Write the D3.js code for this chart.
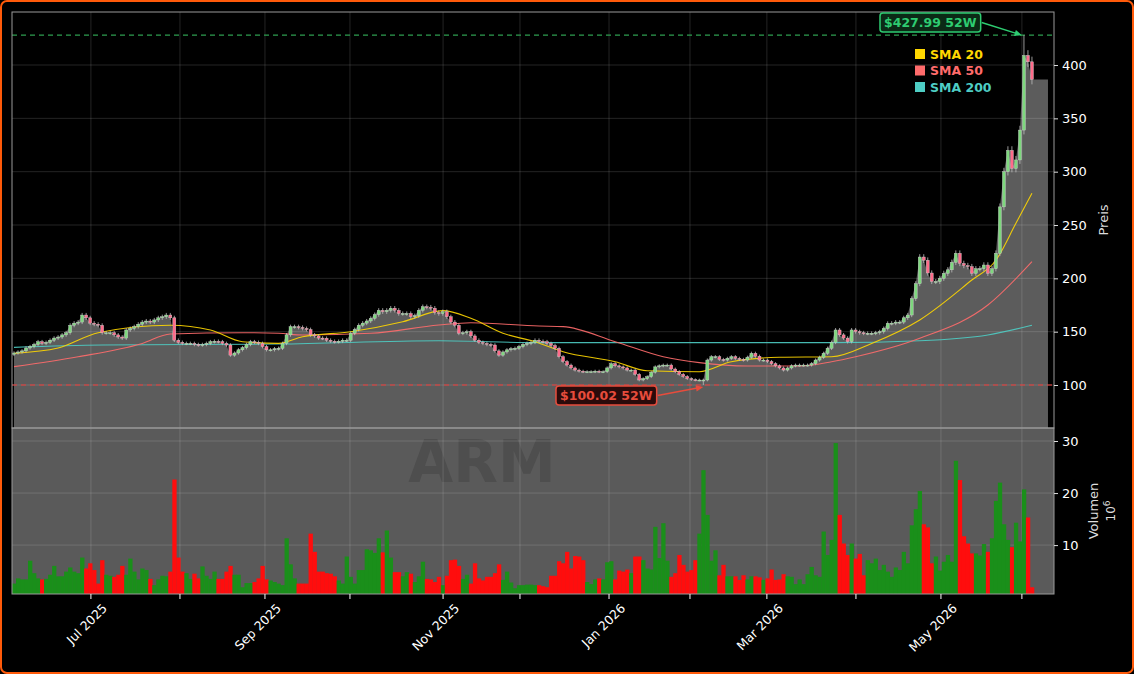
<!DOCTYPE html>
<html>
<head>
<meta charset="utf-8">
<script src="https://cdn.jsdelivr.net/npm/d3@7"></script>
<style>
  html, body { margin: 0; padding: 0; background: #000; }
  svg { display: block; font-family: "DejaVu Sans", sans-serif; }
</style>
</head>
<body>
<div id="chart"></div>
<script>
// daily closes (USD)
const closes = [
  130,131,132,134.7,136,138,140.6,139,140,142,
  144,145,147,149,156,158,159,165.6,163,158,
  157,156,149,149,149,147,145,144,151.6,153,
  154.7,157,159,160,159,161,163,164,165.6,163,
  142,140,139,139,139,138,137.5,138,139,140.6,
  141,140.6,139,137.5,128,130,133,135,138,140.6,
  140,139,136,133,133,134,134.4,139,147,154.7,
  154.7,154,153,152,147,146,144,143.8,142,141,
  140.6,141,142,142,148.5,152,156,158,160,162.5,
  166,170,168.7,170,172,170,167,167,167,164,
  165,170,173.4,173,172,168,167,168.7,164,159,
  156,148.5,149,150,146,142,140,139,138,137.5,
  132,128,131,133,134,134.4,136,138,139,140,
  142,141,140.6,139,137,134.4,126.5,122,118.7,116,
  114,113,112.5,112.5,112.5,113,112.5,112.5,116,120,
  118,117,116,114,114,110,104.7,106,107.8,112,
  117,118,118.7,118.7,115,112.5,110,108,106,105,
  104.7,104.7,104.7,123.4,126.5,126.5,124,123.4,125,126.5,
  125,124,123.4,126,129.7,127,123.4,123.4,122,120,
  118,116,114,116,118,118.7,118.7,118.7,118.7,120,
  123.4,126,129.7,134.4,140,151.6,147,144,140.6,151.6,
  150,149,148.5,148.5,148.5,149,150,153,157.8,158,
  159,159,163,165.6,181,195,220,217,205,197,
  197,200,204.7,208,215,223.5,214,212,211,204.7,
  209,209,212.5,204.7,209,223.5,267,300,320,303,
  311,339,409,403,386.5
];

// daily volume (millions)
const volumes = [
  2.6,3.6,3.4,3.4,7.0,4.6,3.6,3.4,3.5,4.3,
  6.0,4.0,4.0,4.9,5.7,4.9,4.6,7.6,5.5,6.5,
  5.2,2.6,7.1,4.3,4.1,3.9,4.3,6.0,4.3,7.4,
  4.9,3.4,5.5,5.2,3.5,2.3,3.4,4.1,4.0,4.9,
  22.6,7.6,4.9,4.6,3.5,4.5,3.6,5.9,4.1,3.5,
  4.9,3.5,3.5,4.9,6.0,4.3,4.3,1.9,2.7,2.7,
  2.9,3.6,6.0,3.4,3.2,2.9,2.6,2.3,11.3,6.3,
  3.6,2.6,2.6,2.6,12.2,8.7,4.9,4.9,4.6,4.5,
  4.0,3.2,2.6,7.8,3.9,2.6,5.2,5.2,9.2,9.0,
  8.5,11.3,8.6,12.8,7.6,4.8,4.8,4.0,4.8,4.5,
  2.9,4.0,6.8,3.5,3.4,2.9,3.9,2.3,4.1,7.1,
  7.2,6.0,3.5,4.3,2.6,6.5,3.6,3.2,3.9,3.9,
  4.6,6.3,3.3,4.9,2.8,1.7,2.3,2.3,2.4,2.4,
  2.3,2.3,2.1,1.9,4.1,4.1,6.9,6.5,8.7,5.5,
  7.9,7.8,7.1,2.9,2.5,3.4,3.6,3.4,6.7,6.9,
  3.4,5.1,4.9,5.3,4.6,7.8,7.8,7.1,5.5,5.3,
  13.5,7.5,14.2,7.0,3.9,4.6,8.1,6.2,4.9,5.2,
  7.1,12.2,24.4,15.8,7.0,9.0,4.2,6.2,4.0,4.0,
  4.0,3.3,4.2,3.4,4.0,4.0,3.8,3.3,3.6,5.3,
  3.3,3.4,4.4,4.0,3.9,2.5,3.4,2.5,4.4,5.8,
  4.2,3.9,12.6,8.1,11.0,29.6,15.8,10.3,8.1,10.3,
  7.4,8.3,4.2,7.1,6.5,7.4,5.2,6.2,4.9,3.9,
  5.7,5.2,8.7,6.5,13.8,16.9,20.4,14.0,13.4,6.5,
  7.8,5.1,6.8,8.1,6.8,26.2,22.5,11.7,10.3,8.4,
  8.4,8.0,10.2,8.7,11.3,18.5,22.0,14.0,11.0,9.6,
  14.3,10.7,20.7,15.3,1.9
];

// moving averages: [bar index, value]
const sma20 = [[0,129.7],[11,134.7],[21,149],[39,156],[49,151.6],[57,140.6],[66,139],[72,145.3],[84,150],[97,159.3],[107,169.7],[114,162.5],[122,148.5],[130,140.6],[137,131.2],[150,121.8],[158,113.4],[171,112.5],[179,121.8],[191,126],[204,126.5],[214,139],[226,161],[239,198.4],[245,217],[250,251.6],[254,279.7]];
const sma50 = [[0,117.2],[16,126.5],[32,139],[39,147.8],[57,149],[66,148.5],[72,146.9],[89,148.5],[106,156.2],[114,158.4],[131,155.3],[137,154.7],[150,140.6],[162,126.5],[171,121],[183,117.8],[196,117.8],[204,121.8],[210,126.5],[226,143.8],[243,175],[254,215.6]];
const sma200 = [[0,135.3],[22,137.5],[66,138.4],[106,141.5],[131,139.7],[154,139.7],[204,139.7],[226,141.5],[243,146.9],[254,156]];

const high52 = { idx: 252, value: 427.99 };
const low52 = { idx: 172, value: 100.02 };

const priceTicks = [100, 150, 200, 250, 300, 350, 400];
const volumeTicks = [10, 20, 30];
const monthNames = ["Jan","Feb","Mar","Apr","May","Jun","Jul","Aug","Sep","Oct","Nov","Dec"];
const holidays = ["2025-06-19","2025-07-04","2025-09-01","2025-11-27","2025-12-25","2026-01-01","2026-01-19","2026-02-16","2026-04-03","2026-05-25"];

const width = 1134, height = 674;
const slots = 260;
const left = 12, right = 1054;
const pTop = 12, pBottom = 428, vTop = 428, vBottom = 594;

// trading calendar
const dates = [];
for (let d = new Date(Date.UTC(2025, 5, 3)); dates.length < slots; d.setUTCDate(d.getUTCDate() + 1)) {
  const wd = d.getUTCDay();
  const iso = d.toISOString().slice(0, 10);
  if (wd === 0 || wd === 6 || holidays.includes(iso)) continue;
  dates.push(new Date(d));
}

const bars = closes.map((c, i) => {
  const o = i === 0 ? c * 0.99 : closes[i - 1];
  let hi = Math.max(o, c) * 1.012, lo = Math.min(o, c) * 0.988;
  if (i === high52.idx) hi = high52.value;
  if (i === low52.idx) lo = low52.value;
  return { i, o, c, hi, lo, v: volumes[i] };
});

const svg = d3.select("#chart").append("svg")
  .attr("width", width).attr("height", height);

svg.append("rect").attr("x", 1).attr("y", 1).attr("width", width - 2).attr("height", height - 2)
  .attr("rx", 6).attr("fill", "#000").attr("stroke", "#ff5a0a").attr("stroke-width", 2);

const x = d3.scaleBand().domain(d3.range(slots)).range([left, right]).paddingInner(0);
const xc = i => x(i) + x.bandwidth() / 2;
const y = d3.scaleLinear().domain([59.7, 449.7]).range([pBottom, pTop]);
const yv = d3.scaleLinear().domain([0.6, 32.5]).range([vBottom, vTop]);

// month boundaries (tick sits a little after the first session of the month)
const monthStarts = [];
dates.forEach((d, i) => {
  if (i > 0 && d.getUTCMonth() !== dates[i - 1].getUTCMonth()) monthStarts.push(i);
});
const tickX = i => xc(i) + x.step() * (i / 250) * 2.5;

// volume panel background
svg.append("rect").attr("x", left).attr("y", vTop).attr("width", right - left).attr("height", vBottom - vTop)
  .attr("fill", "#5a5a5a");

// price area fill
const lastSlot = slots - 2;
const areaData = bars.map(b => [xc(b.i), y(b.c)]);
areaData.push([xc(lastSlot), y(closes[closes.length - 1])]);
svg.append("path")
  .datum(areaData)
  .attr("fill", "#5c5c5c")
  .attr("d", d3.area().x(d => d[0]).y0(pBottom).y1(d => d[1]));

// watermark
svg.append("text").attr("x", 482).attr("y", 482).attr("text-anchor", "middle")
  .attr("font-size", 58).attr("font-weight", "bold").attr("fill", "#4e4e4e").text("ARM");

// grid
const grid = svg.append("g").attr("stroke", "#ffffff").attr("stroke-opacity", 0.18).attr("stroke-width", 0.8);
monthStarts.forEach(i => {
  grid.append("line").attr("x1", tickX(i)).attr("x2", tickX(i)).attr("y1", pTop).attr("y2", vBottom);
});
priceTicks.forEach(t => {
  grid.append("line").attr("x1", left).attr("x2", right).attr("y1", y(t)).attr("y2", y(t));
});
volumeTicks.forEach(t => {
  grid.append("line").attr("x1", left).attr("x2", right).attr("y1", yv(t)).attr("y2", yv(t));
});

// volume bars
svg.append("g").selectAll("rect").data(bars).join("rect")
  .attr("x", d => x(d.i)).attr("width", x.bandwidth() + 0.3)
  .attr("y", d => yv(d.v)).attr("height", d => vBottom - yv(d.v))
  .attr("fill", d => d.c >= d.o ? "#1a8f1a" : "#ff0d0d");

// 52W lines
svg.append("line").attr("x1", left).attr("x2", right).attr("y1", y(high52.value)).attr("y2", y(high52.value))
  .attr("stroke", "#2e9e50").attr("stroke-width", 1.3).attr("stroke-dasharray", "5,4");
svg.append("line").attr("x1", left).attr("x2", right).attr("y1", y(low52.value)).attr("y2", y(low52.value))
  .attr("stroke", "#d9413f").attr("stroke-width", 1.3).attr("stroke-dasharray", "5,4").attr("opacity", 0.8);

// SMA lines
const smaLine = d3.line().x(d => xc(d[0])).y(d => y(d[1])).curve(d3.curveMonotoneX);
[[sma200, "#4ecdc4"], [sma50, "#ff6b6b"], [sma20, "#ffd700"]].forEach(([data, col]) => {
  svg.append("path").datum(data).attr("fill", "none").attr("stroke", col)
    .attr("stroke-width", 1.1).attr("opacity", 0.9).attr("d", smaLine);
});

// candles
const candles = svg.append("g");
candles.selectAll("line").data(bars).join("line")
  .attr("x1", d => xc(d.i)).attr("x2", d => xc(d.i))
  .attr("y1", d => y(d.hi)).attr("y2", d => y(d.lo))
  .attr("stroke", "#bdbdbd").attr("stroke-width", 0.8);
candles.selectAll("rect").data(bars).join("rect")
  .attr("x", d => xc(d.i) - 1.5).attr("width", 3)
  .attr("y", d => y(Math.max(d.o, d.c)))
  .attr("height", d => Math.max(1, Math.abs(y(d.o) - y(d.c))))
  .attr("fill", d => d.c >= d.o ? "#7ed87e" : "#ff6b8a")
  .attr("stroke", "#d0d0d0").attr("stroke-width", 0.4);

// panel frames
svg.append("rect").attr("x", left).attr("y", pTop).attr("width", right - left).attr("height", pBottom - pTop)
  .attr("fill", "none").attr("stroke", "#9a9a9a").attr("stroke-width", 1);
svg.append("rect").attr("x", left).attr("y", vTop).attr("width", right - left).attr("height", vBottom - vTop)
  .attr("fill", "none").attr("stroke", "#9a9a9a").attr("stroke-width", 1);

// right axes
const pAxis = svg.append("g").attr("transform", `translate(${right},0)`)
  .call(d3.axisRight(y).tickValues(priceTicks).tickSize(4).tickPadding(4));
const vAxis = svg.append("g").attr("transform", `translate(${right},0)`)
  .call(d3.axisRight(yv).tickValues(volumeTicks).tickSize(4).tickPadding(4));
[pAxis, vAxis].forEach(g => {
  g.select(".domain").remove();
  g.selectAll(".tick line").attr("stroke", "#ddd");
  g.selectAll(".tick text").attr("fill", "#fff").attr("font-size", 13).attr("font-family", "DejaVu Sans");
});

// x axis
const xAxis = svg.append("g").attr("transform", `translate(0,${vBottom})`);
monthStarts.forEach(i => {
  const tx = tickX(i);
  xAxis.append("line").attr("x1", tx).attr("x2", tx).attr("y1", 0).attr("y2", 5).attr("stroke", "#fff");
  const m = dates[i].getUTCMonth();
  if (m % 2 === 0) {
    xAxis.append("text")
      .attr("transform", `translate(${tx + 17},${15}) rotate(-45)`)
      .attr("text-anchor", "end").attr("fill", "#fff").attr("font-size", 12.5)
      .text(`${monthNames[m]} ${dates[i].getUTCFullYear()}`);
  }
});

// axis labels
svg.append("text").attr("transform", `translate(1108,${(pTop + pBottom) / 2}) rotate(-90)`)
  .attr("text-anchor", "middle").attr("fill", "#ddd").attr("font-size", 13).text("Preis");
svg.append("text").attr("transform", `translate(1098,${(vTop + vBottom) / 2}) rotate(-90)`)
  .attr("text-anchor", "middle").attr("fill", "#ddd").attr("font-size", 13).text("Volumen");
const exp = svg.append("text").attr("transform", `translate(1115,${(vTop + vBottom) / 2}) rotate(-90)`)
  .attr("text-anchor", "middle").attr("fill", "#ddd").attr("font-size", 12);
exp.append("tspan").text("10");
exp.append("tspan").attr("dy", -5).attr("font-size", 9).text("6");

// legend
const legend = [["SMA 20", "#ffd700"], ["SMA 50", "#ff6b6b"], ["SMA 200", "#4ecdc4"]];
legend.forEach(([label, col], k) => {
  const ly = 54 + k * 16.5;
  svg.append("rect").attr("x", 915).attr("y", ly - 5).attr("width", 10).attr("height", 10).attr("fill", col);
  svg.append("text").attr("x", 930).attr("y", ly + 4.5).attr("fill", col)
    .attr("font-size", 12.5).attr("font-weight", "bold").text(label);
});

// annotations
function note(text, bx, by, col, bg, tx, ty) {
  const t = svg.append("text").attr("x", bx).attr("y", by).attr("fill", col)
    .attr("font-size", 12.5).attr("font-weight", "bold").text(text);
  const bb = t.node().getBBox();
  svg.insert("rect", () => t.node())
    .attr("x", bb.x - 4).attr("y", bb.y - 2).attr("width", bb.width + 8).attr("height", bb.height + 4)
    .attr("rx", 3).attr("fill", bg).attr("stroke", col).attr("stroke-width", 1.5);
  const sx = bb.x + bb.width + 5, sy = bb.y + bb.height / 2;
  const ang = Math.atan2(ty - sy, tx - sx);
  svg.append("line").attr("x1", sx).attr("y1", sy).attr("x2", tx - 6 * Math.cos(ang)).attr("y2", ty - 6 * Math.sin(ang))
    .attr("stroke", col).attr("stroke-width", 1.5);
  const p1 = [tx - 8 * Math.cos(ang - 0.4), ty - 8 * Math.sin(ang - 0.4)];
  const p2 = [tx - 8 * Math.cos(ang + 0.4), ty - 8 * Math.sin(ang + 0.4)];
  svg.append("path").attr("d", `M${tx},${ty}L${p1}L${p2}Z`).attr("fill", col);
}
note("$427.99 52W", 884, 27, "#2ecc71", "#0b2a16", xc(high52.idx) - 2, y(high52.value));
note("$100.02 52W", 560, 400, "#e74c3c", "#2a0b0b", xc(low52.idx), y(low52.value) + 2);
</script>
</body>
</html>
